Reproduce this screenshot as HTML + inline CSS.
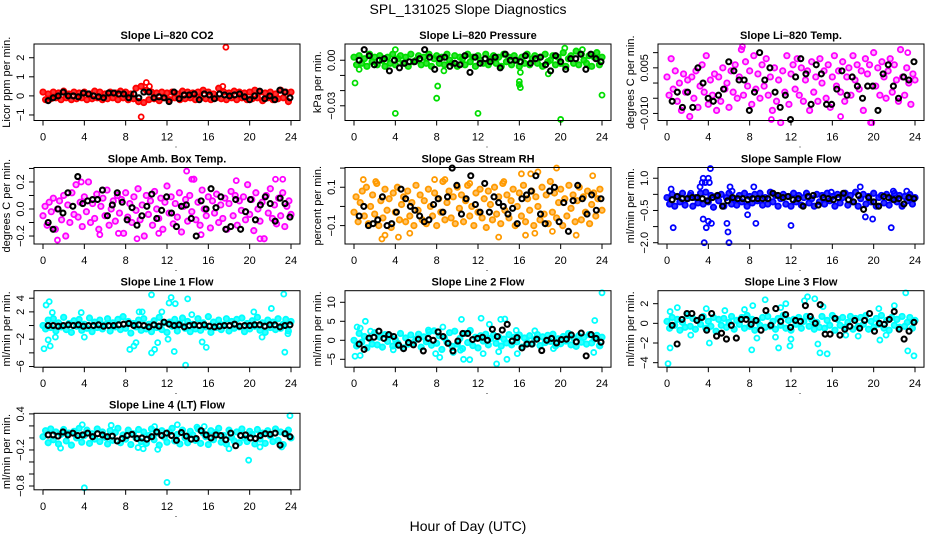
<!DOCTYPE html>
<html><head><meta charset="utf-8"><style>
html,body{margin:0;padding:0;background:#fff;}
svg{display:block;font-family:"Liberation Sans",Arial,sans-serif;}
</style></head><body>
<svg id="chart" width="936" height="540" viewBox="0 0 936 540" xmlns="http://www.w3.org/2000/svg">
<rect x="0" y="0" width="936" height="540" fill="#fff"/>
<text x="468" y="14" text-anchor="middle" font-size="14">SPL_131025  Slope Diagnostics</text>
<text x="468" y="531" text-anchor="middle" font-size="14">Hour of Day (UTC)</text>
</svg>
<script>
// ---------- data ----------
const xTickValues = [0,4,8,12,16,20,24];

const co2Band = [0.2,-0.2,0.1,-0.15,0.2,-0.1,0.15,-0.2,0.25,-0.1,0.1,-0.2,0.2,-0.15,0.15,-0.1,0.2,-0.2,0.1,-0.15,0.25,-0.1,0.2,-0.2,0.1,-0.15,0.2,-0.1,0.15,-0.2,0.25,-0.1,0.2,-0.2,0.1,-0.15,0.4,-0.3,0.5,-0.35,0.3,-0.2,0.2,-0.15,0.15,-0.25,0.2,-0.1,0.15,-0.2,0.2,-0.1,0.1,-0.2,0.25,-0.15,0.2,-0.1,0.15,-0.2,0.2,-0.1,0.3,-0.15,0.2,-0.2,0.1,-0.1,0.4,-0.15,0.2,-0.2,0.15,-0.1,0.25,-0.2,0.2,-0.1,0.15,-0.2,0.2,-0.15,0.3,-0.1,0.2,-0.25,0.15,-0.1,0.2,-0.2,0.1,-0.15,0.3,-0.1,0.2,-0.3,0.2];
const co2OutHours = [17.7,9.5,10.0,10.3,17.4];
const co2OutVals = [2.55,-1.1,0.7,0.5,0.5];
const co2Black = [-0.25,-0.1,0.0,0.2,0.0,0.0,-0.05,0.15,0.1,0.0,-0.05,-0.1,0.15,0.15,0.1,0.1,-0.1,0.1,-0.1,0.2,0.2,-0.1,-0.05,-0.1,-0.3,0.2,-0.15,0.05,0.05,0.1,-0.2,0.1,0.05,-0.15,0.1,0.05,0.0,0.05,0.1,-0.05,-0.2,0.0,0.25,-0.15,0.0,-0.2,0.3,0.2,-0.1];

const presBand = [0.002,-0.003,0.003,-0.002,0.001,-0.004,0.004,-0.001,0.002,-0.003,0.003,0.000,-0.004,0.002,-0.002,0.004,-0.003,0.001,0.003,-0.002,0.002,-0.004,0.004,-0.001,0.000,0.003,-0.003,0.002,-0.002,0.004,-0.004,0.001,0.003,-0.002,0.002,-0.003,0.004,0.000,-0.002,0.003,-0.004,0.002,0.001,-0.003,0.004,-0.001,0.002,-0.004,0.003,0.000,-0.002,0.004,-0.003,0.001,0.003,-0.002,0.002,-0.004,0.004,-0.001,0.002,-0.003,0.003,0.000,-0.004,0.002,-0.002,0.004,-0.003,0.001,0.003,-0.002,0.002,-0.004,0.004,-0.001,0.000,0.003,-0.003,0.002,-0.002,0.005,-0.004,0.001,0.003,-0.002,0.006,-0.003,0.004,0.000,-0.002,0.003,-0.004,0.002,0.005,-0.003,0.002];
const presOutHours = [0.1,4.0,4.0,8.1,8.0,12.0,16.0,16.0,16.1,20.0,24.0,18.8,16.1,0.5,8.7,20.4,22.1];
const presOutVals = [-0.015,-0.035,0.007,-0.017,-0.025,-0.035,-0.014,-0.016,-0.018,-0.039,-0.023,-0.009,-0.008,-0.006,-0.007,0.008,0.007];
const presBlack = [0.000,0.007,0.003,-0.003,0.000,0.001,-0.007,0.000,-0.005,-0.002,-0.001,-0.001,0.001,0.007,0.002,-0.006,0.001,0.002,-0.004,-0.002,-0.003,0.003,-0.008,0.002,-0.002,0.001,-0.001,0.002,-0.005,0.004,0.000,0.000,-0.001,0.003,-0.002,0.001,0.002,-0.003,-0.007,0.003,-0.001,-0.006,0.001,0.001,0.004,-0.006,0.004,0.001,-0.001];

const licTempBand = [0.002,-0.004,0.008,-0.002,0.004,-0.006,0.000,-0.009,0.003,-0.003,0.001,-0.011,0.002,-0.005,0.004,-0.008,-0.001,0.006,-0.003,0.009,-0.007,0.001,-0.004,0.003,-0.009,0.002,-0.006,0.005,-0.002,0.000,-0.008,0.004,-0.003,0.006,-0.005,0.002,0.011,-0.004,0.007,-0.001,0.004,-0.007,0.009,-0.002,0.003,-0.005,0.006,-0.001,0.008,-0.004,0.002,-0.009,0.005,-0.006,0.001,-0.013,0.004,-0.003,0.009,-0.007,0.003,0.006,-0.002,0.008,-0.004,0.005,-0.006,0.001,0.004,-0.009,0.007,-0.003,0.002,-0.006,0.008,0.000,0.004,-0.005,0.006,-0.008,0.002,0.009,-0.001,0.004,-0.003,0.007,-0.006,0.002,0.005,-0.004,0.009,0.001,0.006,-0.002,0.004,-0.009,0.008,0.003,0.006,-0.013,0.010,-0.001,0.005,-0.004,0.007,0.002,-0.005,0.004,0.008,-0.003,0.006,0.001,-0.006,0.011,0.002,-0.004,0.005,0.000,-0.007,0.003,0.001];
const licTempOutHours = [7.3,10.1,16.8,19.7,23.3];
const licTempOutVals = [0.012,-0.012,-0.011,-0.013,0.010];
const licTempBlack = [-0.006,-0.003,-0.008,-0.003,-0.008,0.005,0.000,-0.005,-0.006,-0.004,-0.002,0.007,0.004,0.001,0.001,-0.009,-0.003,0.010,0.001,0.005,-0.003,-0.008,-0.004,-0.012,0.002,0.008,0.003,-0.007,0.006,0.003,-0.007,-0.007,-0.002,0.004,-0.004,0.002,-0.001,-0.005,-0.001,-0.001,-0.009,0.003,0.006,-0.001,-0.005,0.002,0.001,0.007];

const ambBand = [-0.05,0.02,-0.12,0.05,-0.02,0.08,-0.15,0.0,0.06,-0.08,0.1,-0.2,0.03,-0.1,0.12,-0.04,0.18,-0.06,0.05,-0.13,0.09,-0.02,0.2,-0.1,0.04,-0.07,0.11,-0.15,0.02,0.08,-0.05,0.14,-0.12,0.0,0.06,-0.09,0.1,-0.03,0.07,-0.18,0.12,-0.06,0.04,-0.1,0.09,-0.01,0.15,-0.08,0.03,-0.2,0.1,-0.04,0.06,-0.12,0.13,0.0,-0.07,0.08,-0.15,0.05,0.17,-0.03,0.09,-0.11,0.04,-0.06,0.12,-0.17,0.02,0.07,-0.09,0.1,-0.02,0.22,-0.08,0.05,-0.12,0.14,0.0,-0.05,0.09,-0.14,0.06,-0.03,0.11,-0.1,0.03,-0.07,0.08,-0.15,0.04,0.13,-0.05,0.1,-0.12,0.06,-0.01,0.09,-0.08,0.18,-0.04,0.07,-0.16,0.12,0.0,-0.09,0.05,-0.22,0.1,-0.03,0.15,-0.07,0.03,-0.11,0.08,-0.05,0.12,-0.13,0.02,0.06,-0.04];
const ambOutHours = [13.9,14.4,1.4,9.1,21.0,18.7,22.5,5.5,7.3,11.2,23.2,3.7,15.3];
const ambOutVals = [0.28,0.22,-0.23,-0.22,-0.22,0.21,0.22,-0.19,-0.18,-0.18,0.22,0.2,-0.19];
const ambBlack = [-0.1,-0.15,0.0,-0.03,0.12,0.02,0.24,0.04,0.06,0.07,0.07,0.14,-0.05,0.03,0.12,0.05,-0.08,0.01,-0.12,-0.05,0.02,0.11,-0.07,-0.01,0.09,-0.03,-0.13,0.02,0.03,-0.07,-0.2,0.06,0.0,0.15,0.01,0.09,-0.15,-0.13,0.07,-0.15,-0.02,0.07,-0.08,0.03,0.09,0.04,-0.09,0.08,0.04,-0.06];

const rhBand = [-0.03,0.05,-0.08,0.02,0.08,-0.05,0.1,-0.09,0.0,0.06,-0.04,0.12,-0.1,0.03,-0.06,0.09,-0.02,0.04,-0.11,0.07,-0.03,0.1,-0.07,0.01,0.05,-0.08,0.08,-0.05,0.02,-0.1,0.11,-0.02,0.06,-0.07,0.03,-0.09,0.09,0.0,-0.05,0.07,-0.1,0.04,-0.03,0.13,-0.07,0.02,0.08,-0.06,0.05,-0.09,0.1,-0.01,0.06,-0.08,0.03,0.11,-0.05,0.0,-0.1,0.07,-0.03,0.09,-0.06,0.04,-0.11,0.08,0.01,-0.07,0.1,-0.04,0.05,-0.09,0.12,-0.02,0.06,-0.06,0.03,0.09,-0.1,0.0,0.07,-0.05,0.11,-0.08,0.04,-0.02,0.08,-0.1,0.05,0.0,-0.07,0.1,-0.04,0.06,-0.09,0.13,-0.03,0.07,-0.06,0.02,0.09,-0.1,0.04,-0.05,0.11,-0.01,0.06,-0.08,0.03,0.1,-0.07,0.05,-0.03,0.08,-0.09,0.01,0.07,-0.05,0.04,0.09,-0.02];
const rhOutHours = [2.7,3.0,4.3,5.4,14.0,16.6,17.5,16.2,17.1,17.8,19.6,23.1,0.9,2.1,8.8,7.8,11.2,14.5,19.2,21.5];
const rhOutVals = [-0.17,-0.15,-0.16,-0.14,-0.16,-0.15,-0.14,0.17,0.17,0.18,0.2,0.16,0.14,0.13,0.14,0.14,0.12,0.13,-0.13,-0.15];
const rhBlack = [-0.05,0.0,-0.1,-0.09,-0.07,0.05,-0.1,-0.09,-0.03,0.09,0.04,0.0,-0.02,-0.05,-0.08,-0.07,0.01,0.04,-0.03,0.05,0.2,0.11,-0.04,0.04,0.16,0.01,-0.03,0.12,-0.03,0.05,0.02,0.0,-0.04,-0.01,-0.09,0.04,0.06,0.08,0.16,-0.04,-0.09,0.08,0.1,-0.08,0.02,-0.13,0.03,0.11,0.04,-0.04,0.06,-0.02,0.04];

const flowBand = [0.1,-0.2,0.25,-0.3,0.15,-0.1,0.3,-0.25,0.05,0.2,-0.3,0.1,-0.15,0.3,-0.2,0.35,-0.1,0.2,-0.35,0.15,-0.05,0.25,-0.3,0.1,0.3,-0.2,0.05,-0.25,0.2,-0.1,0.3,-0.3,0.15,-0.15,0.25,-0.05,0.3,-0.25,0.1,-0.2,0.35,-0.1,0.2,-0.3,0.05,0.25,-0.2,0.15,-0.3,0.3,-0.1,0.2,-0.25,0.1,0.3,-0.15,0.05,-0.3,0.25,-0.1,0.2,-0.2,0.3,-0.05,0.15,-0.3,0.25,-0.15,0.1,0.3,-0.25,0.2,-0.1,0.35,-0.3,0.05,0.25,-0.2,0.15,-0.1,0.3,-0.3,0.1,0.2,-0.15,0.25,-0.25,0.05,0.3,-0.1,0.2,-0.3,0.15,-0.05,0.25,-0.2,0.1];
const flowOutHours = [3.5,3.7,4.0,4.2,4.1,3.5,3.8,4.0,4.3,3.6,5.8,5.9,6.0,6.1,6.3,0.4,0.6,8.4,8.6,7.8,12.0,15.9,18.7,19.2,19.9,21.7,21.9,23.2,2.3,3.2,3.4];
const flowOutVals = [1.0,0.8,1.0,1.45,0.8,-0.9,-1.3,-1.0,-1.1,-2.0,-1.1,-1.5,-2.0,0.6,0.4,0.5,-1.3,0.6,-1.1,-0.7,-1.2,0.35,0.6,-0.8,-0.9,-1.3,0.4,0.4,0.3,0.6,0.8];
const flowBlack = [0.0,0.15,0.05,0.05,0.1,0.1,0.05,-0.05,0.1,0.2,-0.3,-0.05,0.1,0.05,0.05,0.0,0.05,0.05,0.05,0.05,0.3,0.2,0.1,0.15,0.0,0.05,-0.3,0.15,0.2,-0.25,0.1,0.05,0.0,0.1,0.3,0.0,-0.1,0.2,-0.45,0.1,-0.1,-0.3,0.15,0.1,0.0,0.05,-0.2,0.1,0.05];

const line1Band = [0.0,-0.5,0.8,-0.3,1.0,-0.8,0.4,-0.2,1.2,-0.6,0.3,-1.0,0.7,-0.1,0.9,-0.7,0.2,-0.4,1.1,-0.9,0.5,-0.3,0.8,-0.5,0.1,1.0,-0.8,0.4,-0.2,0.9,-0.6,1.3,-0.4,0.6,-1.1,0.3,-0.2,0.8,-0.7,1.0,-0.5,0.2,-0.9,0.7,-0.3,1.2,-0.6,0.4,-1.0,0.5,-0.1,0.9,-0.8,0.3,1.1,-0.4,0.6,-0.9,0.2,-0.5,1.0,-0.7,0.4,-0.2,1.3,-1.0,0.5,-0.3,0.8,-0.6,0.1,1.0,-0.8,0.6,-0.4,0.9,-0.2,1.1,-0.9,0.3,-0.5,0.7,-0.1,1.2,-0.7,0.4,-1.0,0.8,-0.3,0.5,-0.6,1.0,-0.4,0.2,0.9,-0.8,0.6];
const line1OutHours = [0.1,0.3,0.5,0.6,0.7,1.2,0.9,3.7,4.0,8.4,8.8,9.0,9.6,10.5,10.5,10.8,11.1,12.1,12.2,12.4,12.8,12.7,13.8,14.0,15.4,15.8,14.4,20.4,21.2,22.1,23.3,23.4,23.7,9.3,11.5];
const line1OutVals = [-3.4,3.0,-2.1,3.5,-3.0,-1.7,1.9,1.9,-1.7,-3.5,-3.0,-2.5,2.0,4.5,-4.0,-3.5,-2.5,-2.0,3.3,4.1,3.2,-3.8,-5.8,3.9,-2.4,-3.2,1.6,2.0,-1.7,2.5,4.6,-3.9,-1.2,2.0,2.0];
const line1Black = [0.0,0.0,-0.1,0.0,0.1,0.0,0.1,-0.1,0.0,0.0,0.1,-0.1,0.0,0.0,0.1,0.2,0.3,0.0,0.1,0.0,-0.2,0.1,-0.1,0.5,0.2,0.0,0.1,-0.2,0.0,0.1,0.0,0.1,-0.1,-0.2,-0.1,0.0,0.0,0.2,-0.1,0.0,0.0,0.1,0.1,-0.1,0.1,0.1,-0.2,0.0,0.1];

const line2Band = [0.0,-1.5,1.8,-0.5,1.0,-2.0,0.5,-1.0,2.0,-1.2,0.8,-1.8,1.5,-0.3,1.2,-1.5,0.2,-0.8,1.8,-2.0,0.6,-1.0,1.4,-0.6,0.3,1.6,-1.8,0.9,-0.4,2.2,-1.3,2.5,-0.8,1.2,-2.4,0.6,-0.5,2.0,-1.6,2.4,-1.0,0.5,-2.2,1.8,-0.6,2.6,-1.4,0.8,-2.0,1.2,-0.2,1.6,-1.2,0.5,1.4,-0.8,0.9,-1.5,0.3,-0.7,1.5,-1.2,0.8,-0.4,1.4,-1.8,0.6,-0.5,1.2,-1.0,0.2,1.5,-1.4,0.9,-0.6,1.3,-0.3,1.6,-1.5,0.4,-0.9,1.0,-0.2,1.8,-1.2,0.6,-1.6,1.2,-0.5,0.8,-1.0,1.5,-0.7,0.3,1.3,-1.4,0.8];
const line2OutHours = [0.1,0.3,0.6,0.6,1.1,1.6,3.8,7.2,7.9,8.3,8.6,9.6,10.3,10.6,10.4,11.2,12.3,12.5,13.1,13.8,14.2,14.6,14.8,14.0,15.7,15.8,17.5,19.3,23.3,23.8,24.0,23.2];
const line2OutVals = [-4.2,3.5,3.2,-4.0,5.0,2.4,-2.5,2.7,-3.5,-4.5,3.5,-3.2,-2.6,-5.0,5.5,-5.1,5.8,-3.5,4.2,-6.2,5.5,5.6,-5.0,-3.0,2.6,-3.5,2.5,-2.2,5.2,-1.5,12.5,-3.2];
const line2Black = [-1.0,-2.4,0.6,0.8,2.4,0.5,1.5,1.0,-1.3,-2.2,-0.6,-1.2,0.3,-2.8,0.5,0.0,2.2,1.0,-0.8,-2.8,-0.2,1.8,1.8,0.2,0.5,0.8,0.0,2.9,1.0,2.7,4.2,-0.2,0.7,-2.0,-1.0,-1.0,0.3,-2.7,0.0,0.5,-0.7,0.2,0.3,1.4,-0.4,1.9,-4.1,1.5,0.5,-0.5];

const line3Band = [0.2,-0.5,0.6,-0.2,0.4,-0.7,0.1,-0.4,0.8,-0.3,0.5,-0.6,0.3,-0.1,0.7,-0.5,0.2,-0.3,0.6,-0.8,0.4,-0.2,0.5,-0.4,0.1,0.7,-0.6,0.3,-0.1,0.6,-0.5,0.8,-0.3,0.4,-0.7,0.2,-0.2,0.6,-0.4,0.7,-0.3,0.2,-0.6,0.5,-0.2,0.8,-0.5,0.3,-0.7,0.4,-0.1,0.6,-0.5,0.2,0.7,-0.3,0.4,-0.6,0.1,-0.4,0.7,-0.5,0.3,-0.2,0.8,-0.7,0.4,-0.2,0.6,-0.4,0.1,0.7,-0.6,0.5,-0.3,0.6,-0.1,0.8,-0.6,0.2,-0.4,0.5,-0.1,0.8,-0.5,0.3,-0.7,0.6,-0.2,0.4,-0.4,0.7,-0.3,0.1,0.6,-0.5,0.3];
const line3OutHours = [0.1,0.3,0.3,1.0,2.3,3.8,4.1,5.6,7.5,8.2,8.3,8.7,9.5,10.8,11.0,11.5,11.9,12.0,13.3,13.6,14.3,14.6,14.8,15.5,15.1,17.3,18.5,20.6,22.0,23.1,23.3,23.9,21.2,20.5,10.5];
const line3OutVals = [-4.1,1.2,-2.5,1.6,-1.2,1.5,-2.0,1.3,1.4,-2.7,1.8,-1.5,2.4,-2.5,1.6,2.0,-2.3,-1.6,2.3,2.7,2.5,-2.1,-3.0,-3.1,1.7,-1.2,-1.3,-1.7,1.8,3.1,-2.8,-3.3,-1.2,1.5,-1.4];
const line3Black = [-0.2,-2.1,0.4,1.0,1.0,0.3,0.6,-0.7,1.0,-1.3,-1.0,-1.6,-0.2,-1.5,0.4,0.4,-0.1,0.3,-0.7,1.3,-0.2,1.5,0.2,0.9,-0.4,0.3,0.2,1.8,0.7,0.0,1.9,-1.1,-1.1,0.5,-1.2,-0.6,-0.3,0.3,-0.5,0.3,1.0,-0.8,0.0,-0.1,0.4,1.2,-0.6,-1.6,-0.8,0.1];

const line4Band = [0.02,0.12,-0.08,0.15,-0.03,0.1,-0.1,0.06,0.14,-0.05,0.08,-0.12,0.11,0.0,0.16,-0.07,0.04,0.13,-0.09,0.07,-0.02,0.15,-0.06,0.1,0.01,-0.1,0.12,-0.04,0.09,0.16,-0.08,0.05,-0.02,0.13,-0.11,0.07,0.0,0.14,-0.06,0.1,-0.09,0.04,0.15,-0.03,0.08,-0.12,0.12,0.01,-0.07,0.1,0.16,-0.05,0.06,-0.1,0.13,0.0,-0.08,0.11,0.05,-0.04,0.15,-0.09,0.08,0.02,-0.11,0.12,-0.03,0.09,0.16,-0.07,0.04,-0.1,0.13,0.01,-0.05,0.1,-0.08,0.15,0.0,-0.06,0.11,0.06,-0.1,0.14,-0.02,0.08,-0.09,0.12,0.03,-0.06,0.15,-0.04,0.1,-0.11,0.07,0.13,0.0];
const line4OutHours = [4.0,12.0,23.9,19.9,3.8,6.6,10.8,13.0,14.9,15.6,1.7,9.7,11.1,18.0,21.0,23.1,9.2];
const line4OutVals = [-0.83,-0.74,0.37,-0.37,0.22,0.21,0.19,0.22,0.18,0.19,-0.17,-0.18,-0.19,-0.18,-0.15,-0.15,-0.16];
const line4Black = [0.05,0.05,0.03,0.1,0.05,0.08,0.04,0.05,0.08,0.02,0.07,0.05,0.02,0.03,-0.05,-0.01,0.04,0.06,-0.01,0.0,-0.02,0.02,0.1,0.04,0.08,0.04,-0.04,0.09,0.03,-0.02,-0.01,0.12,0.05,0.0,0.05,0.04,-0.03,0.08,-0.13,0.04,0.05,0.0,-0.01,0.04,0.07,0.06,0.08,-0.12,0.07,0.02];

// ---------- layout ----------
const svg = document.getElementById('chart');
const NS = 'http://www.w3.org/2000/svg';
const colLeft = [34,345,658], rowTop = [44,167.5,290.7,413.3];
const boxW = 266, boxH = 76.5;

const panels = [
 {key:'co2',title:'Slope Li–820 CO2',ytitle:'Licor ppm per min.',col:0,row:0,ymin:-1.29,ymax:2.72,ticks:[-1,0,1,2],labels:['−1','0','1','2'],color:'#ff0000',fillOp:0.8,band:co2Band,oh:co2OutHours,ov:co2OutVals,black:co2Black},
 {key:'pressure',title:'Slope Li–820 Pressure',ytitle:'kPa per min.',col:1,row:0,ymin:-0.0397,ymax:0.0107,ticks:[-0.03,-0.02,-0.01,0],labels:['−0.03','','','0.00'],color:'#00dd00',fillOp:0.8,band:presBand,oh:presOutHours,ov:presOutVals,black:presBlack},
 {key:'licor-temp',title:'Slope Li–820 Temp.',ytitle:'degrees C per min.',col:2,row:0,ymin:-0.01232,ymax:0.01284,ticks:[-0.01,-0.005,0,0.005,0.01],labels:['−0.010','','','0.005',''],color:'#ff00ff',fillOp:0.3,band:licTempBand,oh:licTempOutHours,ov:licTempOutVals,black:licTempBlack},
 {key:'amb-temp',title:'Slope Amb. Box Temp.',ytitle:'degrees C per min.',col:0,row:1,ymin:-0.259,ymax:0.307,ticks:[-0.2,-0.1,0,0.1,0.2,0.3],labels:['−0.2','','0.0','','0.2',''],color:'#ff00ff',fillOp:0.3,band:ambBand,oh:ambOutHours,ov:ambOutVals,black:ambBlack},
 {key:'rh',title:'Slope Gas Stream RH',ytitle:'percent per min.',col:1,row:1,ymin:-0.196,ymax:0.203,ticks:[-0.1,0,0.1,0.2],labels:['−0.1','','0.1',''],color:'#ff9a00',fillOp:0.6,band:rhBand,oh:rhOutHours,ov:rhOutVals,black:rhBlack},
 {key:'sample-flow',title:'Slope Sample Flow',ytitle:'ml/min per min.',col:2,row:1,ymin:-2.06,ymax:1.5,ticks:[-2,-1.25,-0.5,0.25,1],labels:['−2.0','','−0.5','','1.0'],color:'#0000ff',fillOp:0.8,band:flowBand,oh:flowOutHours,ov:flowOutVals,black:flowBlack},
 {key:'line1',title:'Slope Line 1 Flow',ytitle:'ml/min per min.',col:0,row:2,ymin:-6.1,ymax:5.1,ticks:[-6,-4,-2,0,2,4],labels:['−6','','−2','','2','4'],color:'#00ffff',fillOp:0.8,band:line1Band,oh:line1OutHours,ov:line1OutVals,black:line1Black},
 {key:'line2',title:'Slope Line 2 Flow',ytitle:'ml/min per min.',col:1,row:2,ymin:-7.08,ymax:13.05,ticks:[-5,0,5,10],labels:['−5','0','5','10'],color:'#00ffff',fillOp:0.8,band:line2Band,oh:line2OutHours,ov:line2OutVals,black:line2Black},
 {key:'line3',title:'Slope Line 3 Flow',ytitle:'ml/min per min.',col:2,row:2,ymin:-4.46,ymax:3.32,ticks:[-4,-2,0,2],labels:['−4','−2','0','2'],color:'#00ffff',fillOp:0.8,band:line3Band,oh:line3OutHours,ov:line3OutVals,black:line3Black},
 {key:'line4',title:'Slope Line 4 (LT) Flow',ytitle:'ml/min per min.',col:0,row:3,ymin:-0.863,ymax:0.41,ticks:[-0.8,-0.6,-0.4,-0.2,0,0.2,0.4],labels:['−0.8','','','−0.2','','','0.4'],color:'#00ffff',fillOp:0.8,band:line4Band,oh:line4OutHours,ov:line4OutVals,black:line4Black}
];

function mk(tag, attrs, parent){
  const el = document.createElementNS(NS, tag);
  for (const k in attrs) el.setAttribute(k, attrs[k]);
  (parent||svg).appendChild(el);
  return el;
}

panels.forEach(p => {
  const L = colLeft[p.col], T = rowTop[p.row], B = T + boxH;
  const xs = h => L + 9 + h * (248/24);
  const ys = v => T + (p.ymax - v) / (p.ymax - p.ymin) * boxH;
  const g = mk('g', {});
  
  

  const t = mk('text', {x: L + boxW/2, y: T - 5, 'text-anchor':'middle', 'font-size':11, 'font-weight':'bold'}, g);
  t.textContent = p.title;
  
  

  const yt = mk('text', {x:0, y:0, 'text-anchor':'middle', 'font-size':11, transform:`translate(${L-24},${T+boxH/2}) rotate(-90)`}, g);
  yt.textContent = p.ytitle;
  
  

  // colored band points (filled lightly to mimic dense overplotting)
  const cg = mk('g', {fill:p.color, 'fill-opacity':p.fillOp, stroke:p.color, 'stroke-width':1.8}, g);
  
  
  const n = p.band.length;
  p.band.forEach((v,i) => {
    const c = mk('circle', {cx: xs(i*24/(n-1)), cy: ys(v), r: 2.7}, cg);
    
    
  });
  const og = mk('g', {fill:'none', stroke:p.color, 'stroke-width':1.8}, g);
  
  
  p.oh.forEach((h,i) => {
    const c = mk('circle', {cx: xs(h), cy: ys(p.ov[i]), r: 2.5}, og);
    
    
  });
  // black points
  const bg = mk('g', {fill:'none', stroke:'#000', 'stroke-width':2.1}, g);
  
  
  const m = p.black.length;
  p.black.forEach((v,i) => {
    const c = mk('circle', {cx: xs(0.5 + i*23.4/(m-1)), cy: ys(v), r: 2.5}, bg);
    
    
  });

  // box
  const box = mk('rect', {x:L, y:T, width:boxW, height:boxH, fill:'none', stroke:'#000', 'stroke-width':1}, g);
  
  

  // y ticks
  p.ticks.forEach((v,i) => {
    const y = ys(v);
    const tk = mk('line', {x1:L-5, x2:L, y1:y, y2:y, stroke:'#000'}, g);
    
    
    if (p.labels[i]) {
      const lb = mk('text', {x:0, y:0, 'text-anchor':'middle', 'font-size':11, transform:`translate(${L-10},${y}) rotate(-90)`}, g);
      lb.textContent = p.labels[i];
      
      
    }
  });
  // x axis
  const ax = mk('line', {x1:xs(0), x2:xs(24), y1:B, y2:B, stroke:'#000'}, g);
  
  
  xTickValues.forEach(h => {
    const x = xs(h);
    const tk = mk('line', {x1:x, x2:x, y1:B, y2:B+5, stroke:'#000'}, g);
    
    
    const lb = mk('text', {x:x, y:B+20, 'text-anchor':'middle', 'font-size':11}, g);
    lb.textContent = String(h);
    
    
  });
  const dot = mk('text', {x:L+142, y:B+27, 'text-anchor':'middle', 'font-size':9}, g);
  dot.textContent = '.';
  
  
});
</script>
</body></html>
